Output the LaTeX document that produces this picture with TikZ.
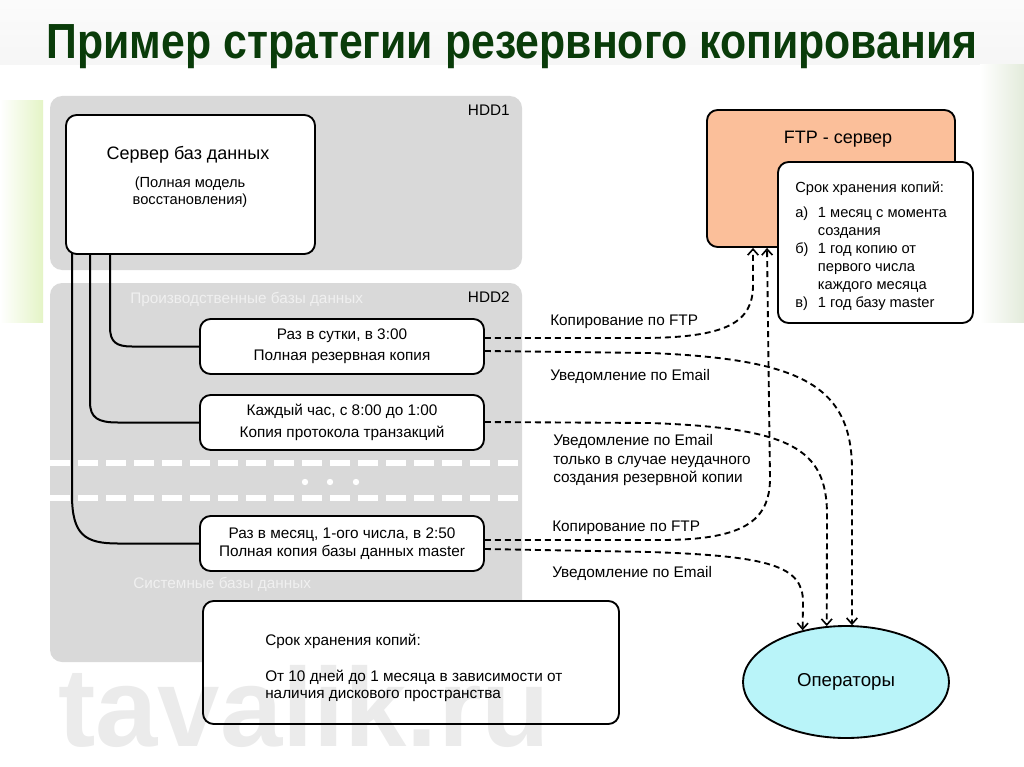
\documentclass[tikz,border=0pt]{standalone}
\usepackage{fontspec}
\setmainfont{Liberation Sans}
\usetikzlibrary{shapes.geometric,arrows.meta}
\definecolor{panelgray}{HTML}{D9D9D9}
\definecolor{ftporange}{HTML}{FBBF9A}
\definecolor{opscyan}{HTML}{B9F4F9}
\definecolor{titlegreen}{RGB}{10,60,10}
\definecolor{leafgreen}{HTML}{E4F4C6}
\definecolor{rightstrip}{HTML}{E3EBDB}
\pgfdeclarelayer{back}
\pgfdeclarelayer{bg}
\pgfsetlayers{back,bg,main}
\begin{document}
\begin{tikzpicture}[x=0.75pt,y=-0.75pt,
  panel/.style={fill=panelgray, rounded corners=9pt},
  box/.style={draw=black, line width=1.4pt, rounded corners=8pt, fill=white, inner sep=0pt, align=center},
  txt/.style={font=\fontsize{11.5}{14}\selectfont, inner sep=0pt},
  wtxt/.style={txt, text=white},
  conn/.style={line width=1.5pt},
  dsh/.style={line width=1.4pt, dash pattern=on 4.5pt off 3pt,
    -{Straight Barb[length=4.5pt,width=8pt,line width=1.2pt]}},
  lbl/.style={txt, anchor=west},
  wdash/.style={white, line width=4.5pt, dash pattern=on 15pt off 6pt},
]
\useasboundingbox (0,0) rectangle (1024,767);
\begin{pgfonlayer}{back}
  \fill[white] (0,0) rectangle (1024,767);
  \shade[top color=gray!3, bottom color=gray!7] (0,0) rectangle (1024,65);
  \shade[left color=white, right color=leafgreen] (0,100) rectangle (43,322);
  \shade[left color=white, right color=rightstrip] (980,65) rectangle (1024,322);
  \fill[white] (45,65) rectangle (980,767);
  % panels
  \fill[panel] (50,96) rectangle (522,270);
  \fill[panel] (50,283) rectangle (522,662);
  \draw[wdash] (50,463) -- (522,463);
  \draw[wdash] (50,498) -- (522,498);
  \fill[white] (305,482) circle (2.4pt);
  \fill[white] (330,482) circle (2.4pt);
  \fill[white] (356,482) circle (2.4pt);
\end{pgfonlayer}

% title
\node[anchor=base, inner sep=0pt, text=titlegreen] (title) at (512,59)
  {\resizebox{698pt}{\height}{\fontsize{37pt}{42pt}\selectfont\bfseries Пример стратегии резервного копирования}};

% panel labels
\node[txt, anchor=east] (hdd1) at (510,110) {HDD1};
\node[txt, anchor=east] (hdd2) at (510,297) {HDD2};
\node[wtxt, anchor=west, text=white!94!black] (prod) at (130,299) {Производственные базы данных};
\node[wtxt, anchor=west, text=white!94!black] (sys) at (133,584) {Системные базы данных};

% server
\node[box, minimum width=186.75pt, minimum height=104.25pt] (srv) at (190.5,184.5) {};
\node[inner sep=0pt, font=\fontsize{13.5}{16}\selectfont] (srvt) at (188,155) {Сервер баз данных};
\node[inner sep=0pt, align=center, font=\fontsize{11}{12.5}\selectfont] (srvs) at (190,192) {(Полная модель\\восстановления)};

% job boxes
\node[box, minimum width=213pt, minimum height=41.25pt, font=\fontsize{11.5}{15.75}\selectfont] (b1) at (342,346.5)
  {Раз в сутки, в 3:00\\Полная резервная копия};
\node[box, minimum width=213pt, minimum height=41.25pt, font=\fontsize{11.5}{16.5}\selectfont] (b2) at (342,422.5)
  {Каждый час, с 8:00 до 1:00\\Копия протокола транзакций};
\node[box, minimum width=213pt, minimum height=41.25pt, font=\fontsize{11.5}{13.5}\selectfont] (b3) at (342,543.5)
  {Раз в месяц, 1-ого числа, в 2:50\\Полная копия базы данных master};

% bottom retention box
\node[box, minimum width=312pt, minimum height=92.25pt] (bret) at (411,662.5) {};
\node[txt, anchor=base west, font=\fontsize{11.5}{12.75}\selectfont] (brett) at (265,645.5)
  {\begin{tabular}[t]{@{}l@{}}Срок хранения копий:\\[14.25pt]От 10 дней до 1 месяца в зависимости от\\наличия дискового пространства\end{tabular}};

% FTP server
\node[box, fill=ftporange, minimum width=186pt, minimum height=102.75pt] (ftp) at (831,178.5) {};
\node[inner sep=0pt, font=\fontsize{13.5}{16}\selectfont] (ftpt) at (838,139) {FTP - сервер};
\node[box, minimum width=146.25pt, minimum height=120.75pt] (ret) at (875.5,242.5) {};
\node[txt, anchor=base west, font=\fontsize{11}{13.5}\selectfont] (rett) at (795,192.5)
  {\begin{tabular}[t]{@{}p{17pt}@{}l@{}}
   \multicolumn{2}{@{}l@{}}{Срок хранения копий:}\\[5pt]
   а) & 1 месяц с момента\\
      & создания\\
   б) & 1 год копию от\\
      & первого числа\\
      & каждого месяца\\
   в) & 1 год базу master
   \end{tabular}};

% operators
\node[ellipse, draw=black, line width=1.4pt, fill=opscyan, minimum width=154.5pt, minimum height=84pt,
  inner sep=0pt, font=\fontsize{14}{16}\selectfont] (ops) at (846,682) {Операторы};

% solid connectors from the server
\begin{pgfonlayer}{bg}
  \draw[conn] (110,0 |- srv.center) -- (110,327) .. controls (110,342) and (116,346.5) .. (132,346.5) -- (b1.west);
  \draw[conn] (90,0 |- srv.center) -- (90,402) .. controls (90,418) and (98,422.5) .. (118,422.5) -- (b2.west);
  \draw[conn] (72,0 |- srv.center) -- (72,495) .. controls (72,535) and (85,543.5) .. (118,543.5) -- (b3.west);
\end{pgfonlayer}

% dashed connectors
\draw[dsh] (b1.east |- 0,338) -- (640,338) .. controls (728,338) and (753,322) .. (753,285) -- (753,0 |- ftp.south);
\draw[dsh] (b3.east |- 0,540) -- (660,540) .. controls (742,540) and (770,522) .. (770,478) -- (767,0 |- ftp.south);
\draw[dsh] (b1.east |- 0,351) -- (650,353) .. controls (800,359) and (852,385) .. (852,470) -- (ops.84);
\draw[dsh] (b2.east |- 0,422) -- (650,423) .. controls (790,428) and (827,448) .. (827,515) -- (ops.109);
\draw[dsh] (b3.east |- 0,549) -- (650,552) .. controls (770,556) and (803,566) .. (803,602) -- (ops.130);

% connector labels
\node[lbl] (l1) at (550,322) {Копирование по FTP};
\node[lbl] (l2) at (550,376) {Уведомление по Email};
\node[txt, anchor=base west, font=\fontsize{11.5}{13.9}\selectfont] (l3) at (553,445.5)
  {\begin{tabular}[t]{@{}l@{}}Уведомление по Email\\только в случае неудачного\\создания резервной копии\end{tabular}};
\node[lbl] (l4) at (552,528) {Копирование по FTP};
\node[lbl] (l5) at (552,573) {Уведомление по Email};

% watermark
\node[anchor=base west, inner sep=0pt, text=black, text opacity=0.08, font=\fontsize{84pt}{90pt}\selectfont\bfseries] (wm) at (58,746) {tavalik.ru};
\end{tikzpicture}
\end{document}
